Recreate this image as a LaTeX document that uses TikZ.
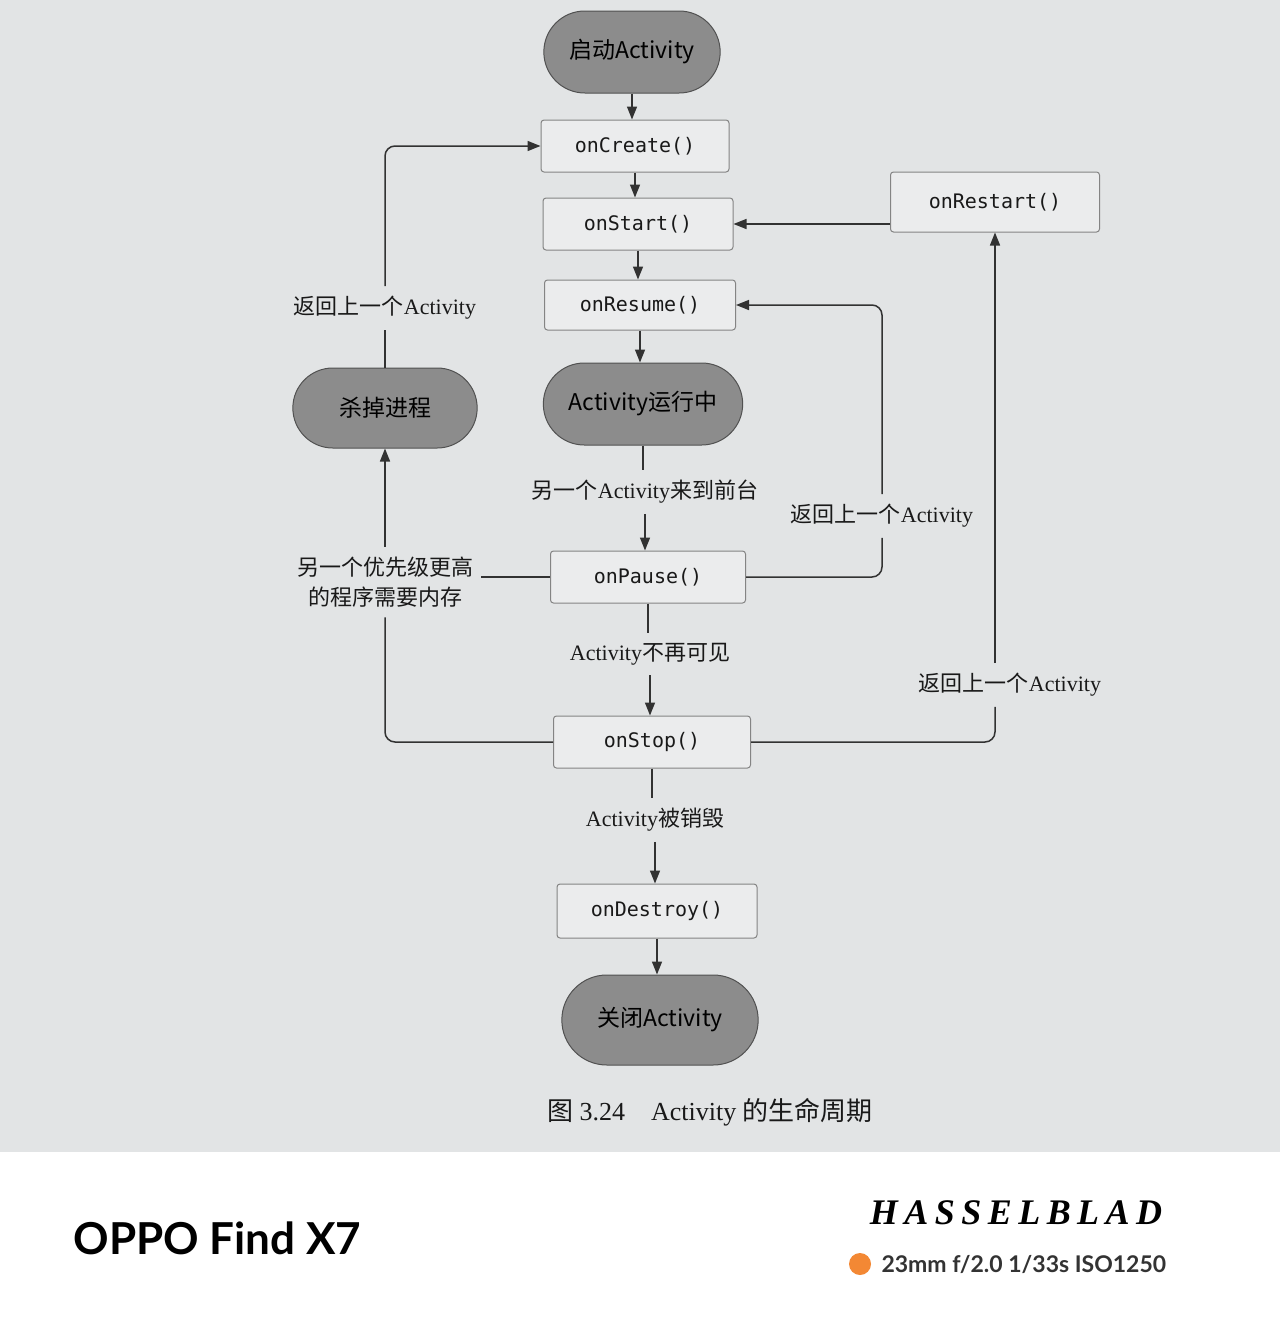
\documentclass[tikz,border=0pt]{standalone}
\usepackage{fontspec}
\setmainfont{Liberation Serif}
\newfontfamily\cjk{Noto Sans CJK SC}
\newfontfamily\boxfont{DejaVu Sans Mono}
\newfontfamily\footfont{Lato}
\newfontfamily\brandfont[LetterSpace=18]{Liberation Serif}
\usetikzlibrary{positioning,arrows.meta,shapes.misc}
\definecolor{page}{RGB}{226,228,229}
\definecolor{pillgray}{RGB}{140,140,140}
\definecolor{ink}{RGB}{50,50,50}
\definecolor{dotorange}{RGB}{243,136,52}

\begin{document}
\begin{tikzpicture}[x=1pt,y=-1pt,
  line/.style={draw=ink,line width=1.5pt},
  arr/.style={line,-{Triangle[length=13pt,width=10pt]}},
  pill/.style={rounded rectangle,draw=ink!85,line width=1pt,fill=pillgray,minimum height=82pt,text=black,font=\cjk\fontsize{23}{26}\selectfont},
  call/.style={draw=ink!60,line width=1pt,fill=page!70!white,rounded corners=3pt,minimum height=52pt,text=black!90,font=\boxfont\fontsize{20}{24}\selectfont},
  lbl/.style={inner xsep=8pt,inner ysep=10pt,align=center,text=black!90,font=\fontsize{22}{30}\selectfont}]
\fill[page] (0,0) rectangle (1280,1152);
\fill[white] (0,1152) rectangle (1280,1317);
\useasboundingbox (0,0) rectangle (1280,1317);

% main column
\node[pill,minimum width=183pt] (start) at (632,52) {启动Activity};
\node[call,minimum width=188pt] (create) at (635,146) {onCreate()};
\node[call,minimum width=190pt] (onstart) at (638,224) {onStart()};
\node[call,minimum width=209pt,minimum height=60pt] (restart) at (995,202) {onRestart()};
\node[call,minimum width=191pt,minimum height=50pt] (resume) at (640,305) {onResume()};
\node[pill,minimum width=206pt] (running) at (643,404) {Activity运行中};
\node[pill,minimum width=191pt,minimum height=80pt] (kill) at (385,408) {杀掉进程};
\node[call,minimum width=195pt] (pause) at (648,577) {onPause()};
\node[call,minimum width=197pt] (stop) at (652,742) {onStop()};
\node[call,minimum width=200pt,minimum height=54pt] (destroy) at (657,911) {onDestroy()};
\node[pill,minimum width=203pt,minimum height=90pt] (close) at (660,1020) {关闭Activity};

% labels
\node[lbl] (backleft) at (385,308) {{\cjk 返回上一个}Activity};
\node[lbl] (front) at (645,492) {{\cjk 另一个}Activity{\cjk 来到前台}};
\node[lbl] (backmid) at (882,516) {{\cjk 返回上一个}Activity};
\node[lbl] (memory) at (385,582) {{\cjk 另一个优先级更高}\\{\cjk 的程序需要内存}};
\node[lbl] (hidden) at (650,654) {Activity{\cjk 不再可见}};
\node[lbl] (backright) at (1010,685) {{\cjk 返回上一个}Activity};
\node[lbl] (destroyed) at (655,820) {Activity{\cjk 被销毁}};
\node[font=\fontsize{26}{30}\selectfont,text=black!90] (caption) at (710,1112) {{\cjk 图} 3.24\quad Activity {\cjk 的生命周期}};

\foreach \a/\b in {start/create,create/onstart,onstart/resume,resume/running,front/pause,hidden/stop,destroyed/destroy,destroy/close}
  \draw[arr] (\a.south) -- (\a.south |- \b.north);
\foreach \a/\b in {running/front,pause/hidden,stop/destroyed}
  \draw[line] (\a.south) -- (\a.south |- \b.north);

\draw[arr] (restart.west |- onstart) -- (onstart.east);
\draw[line,rounded corners=10pt] (pause.east) -| (backmid.south);
\draw[arr,rounded corners=10pt] (backmid.north) |- (resume.east);
\draw[line,rounded corners=10pt] (stop.east) -| (backright.south -| restart.south);
\draw[arr] (backright.north -| restart.south) -- (restart.south);
\draw[line] (pause.west) -- (pause.west -| memory.east);
\draw[line,rounded corners=10pt] (stop.west) -| (memory.south);
\draw[arr] (memory.north) -- (kill.south);
\draw[line] (kill.north) -- (backleft.south);
\draw[arr,rounded corners=10pt] (backleft.north) |- (create.west);

% footer
\node[anchor=west,font=\footfont\bfseries\fontsize{44}{48}\selectfont] (phone) at (70,1238) {OPPO Find X7};
\node[font=\brandfont\bfseries\itshape\fontsize{36}{40}\selectfont] (brand) at (1016,1213) {HASSELBLAD};
\fill[dotorange] (860,1264) circle (11);
\node[anchor=west,text=black!80,font=\footfont\bfseries\fontsize{23}{26}\selectfont] (exif) at (878,1264) {23mm f/2.0 1/33s ISO1250};
\end{tikzpicture}
\end{document}
